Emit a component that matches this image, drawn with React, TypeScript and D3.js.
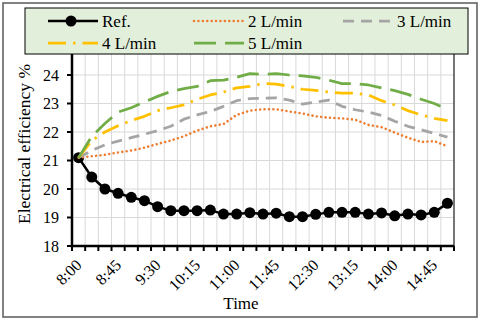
import React from "react";
import { scaleBand, scaleLinear, line } from "d3";

const W = 480;
const H = 320;
const margin = { top: 46.5, right: 26, bottom: 74, left: 72 };
const FONT = "Liberation Serif, Times New Roman, serif";

const times = [
  "8:00", "8:15", "8:30", "8:45", "9:00", "9:15", "9:30", "9:45", "10:00", "10:15",
  "10:30", "10:45", "11:00", "11:15", "11:30", "11:45", "12:00", "12:15", "12:30", "12:45",
  "13:00", "13:15", "13:30", "13:45", "14:00", "14:15", "14:30", "14:45", "15:00",
];
const tickLabels = ["8:00", "8:45", "9:30", "10:15", "11:00", "11:45", "12:30", "13:15", "14:00", "14:45"];
const yTicks = [18, 19, 20, 21, 22, 23, 24];

const ref = [
  21.1, 20.42, 20.0, 19.85, 19.71, 19.59, 19.38, 19.24, 19.24, 19.24,
  19.26, 19.12, 19.12, 19.17, 19.12, 19.15, 19.03, 19.03, 19.11, 19.18,
  19.18, 19.18, 19.12, 19.16, 19.06, 19.12, 19.09, 19.18, 19.5,
];
const flow2 = [
  21.1, 21.15, 21.2, 21.28, 21.35, 21.45, 21.58, 21.7, 21.85, 22.05,
  22.2, 22.28, 22.6, 22.75, 22.8, 22.8, 22.72, 22.65, 22.55, 22.5,
  22.48, 22.43, 22.25, 22.17, 21.98, 21.8, 21.65, 21.68, 21.5,
];
const flow3 = [
  21.1, 21.35, 21.55, 21.68, 21.8, 21.92, 22.05, 22.2, 22.45, 22.6,
  22.72, 22.9, 23.1, 23.17, 23.18, 23.2, 23.12, 22.98, 23.05, 23.12,
  22.9, 22.78, 22.7, 22.58, 22.38, 22.2, 22.08, 21.95, 21.82,
];
const flow4 = [
  21.1, 21.7, 22.0, 22.22, 22.4, 22.55, 22.75, 22.85, 22.95, 23.15,
  23.3, 23.4, 23.55, 23.6, 23.7, 23.68, 23.6, 23.5, 23.46, 23.4,
  23.36, 23.36, 23.3, 23.1, 22.95, 22.75, 22.6, 22.48, 22.4,
];
const flow5 = [
  21.1, 21.85, 22.3, 22.7, 22.85, 23.05, 23.25, 23.42, 23.52, 23.6,
  23.8, 23.82, 23.92, 24.05, 24.02, 24.05, 24.0, 23.97, 23.92, 23.82,
  23.7, 23.7, 23.65, 23.55, 23.45, 23.32, 23.15, 23.0, 22.8,
];

const series = [
  { name: "Ref.", values: ref, color: "#000000", width: 2.5, dash: "", cap: "butt", marker: true },
  { name: "2 L/min", values: flow2, color: "#ED7D31", width: 2.6, dash: "0.01 4.4", cap: "round", marker: false },
  { name: "3 L/min", values: flow3, color: "#A5A5A5", width: 2.75, dash: "11 7", cap: "butt", marker: false },
  { name: "4 L/min", values: flow4, color: "#FFC000", width: 2.75, dash: "18 7 2.5 7", cap: "butt", marker: false },
  { name: "5 L/min", values: flow5, color: "#70AD47", width: 2.75, dash: "22 9", cap: "butt", marker: false },
];

// legend slots: [lineStartX, y]
const legendPos = [
  [48, 21], [194, 21], [343, 21],
  [48, 43], [194, 43],
];

export default function App() {
  const x = scaleBand<string>()
    .domain(times)
    .range([margin.left, W - margin.right])
    .paddingInner(0)
    .paddingOuter(0);
  const y = scaleLinear().domain([18, 25]).range([H - margin.bottom, margin.top]);
  const cx = (t: string) => (x(t) ?? 0) + x.bandwidth() / 2;
  const bottom = H - margin.bottom;

  const mkLine = line<number>()
    .x((_, i) => cx(times[i]))
    .y((d) => y(d));

  const boundaries = times.map((t) => x(t) ?? 0).concat([W - margin.right]);

  return (
    <svg
      width={W}
      height={H}
      style={{ position: "absolute", left: 0, top: 0, background: "#fff", fontFamily: FONT }}
    >
      <rect x={3} y={3} width={474} height={314} fill="#fff" stroke="#595959" strokeWidth={1.5} />

      {/* grid */}
      {yTicks.map((t) => (
        <line key={"gy" + t} x1={margin.left} x2={W - margin.right} y1={y(t)} y2={y(t)} stroke="#d9d9d9" strokeWidth={1} />
      ))}
      {boundaries.map((b, i) => (
        <line key={"gx" + i} x1={b} x2={b} y1={y(25)} y2={bottom} stroke="#d9d9d9" strokeWidth={1} />
      ))}
      <line x1={W - margin.right} x2={W - margin.right} y1={y(25)} y2={bottom} stroke="#000" strokeWidth={1} />

      {/* series */}
      {series.map((s) => (
        <g key={s.name}>
          <path
            d={mkLine(s.values) ?? ""}
            fill="none"
            stroke={s.color}
            strokeWidth={s.width}
            strokeDasharray={s.dash || undefined}
            strokeLinecap={s.cap as any}
            strokeLinejoin="round"
          />
          {s.marker &&
            s.values.map((v, i) => (
              <circle key={i} cx={cx(times[i])} cy={y(v)} r={5.5} fill={s.color} />
            ))}
        </g>
      ))}

      {/* axes */}
      <line x1={margin.left} x2={margin.left} y1={y(25)} y2={bottom + 1.25} stroke="#000" strokeWidth={2.5} />
      <line x1={margin.left - 1.25} x2={W - margin.right} y1={bottom} y2={bottom} stroke="#000" strokeWidth={2.5} />
      {yTicks.map((t) => (
        <g key={"yt" + t}>
          <line x1={margin.left - 5} x2={margin.left} y1={y(t)} y2={y(t)} stroke="#000" strokeWidth={2} />
          <text x={margin.left - 13} y={y(t)} dy="0.35em" textAnchor="end" fontSize={16}>
            {t}
          </text>
        </g>
      ))}
      {boundaries.map((b, i) => (
        <line key={"xt" + i} x1={b} x2={b} y1={bottom} y2={bottom + 5} stroke="#000" strokeWidth={2} />
      ))}
      {tickLabels.map((t) => (
        <text
          key={"xl" + t}
          transform={`translate(${cx(t) + 4},${bottom + 20}) rotate(-45)`}
          textAnchor="end"
          fontSize={16}
        >
          {t}
        </text>
      ))}
      <text x={241} y={309} textAnchor="middle" fontSize={17}>
        Time
      </text>
      <text transform={`translate(30,${144}) rotate(-90)`} textAnchor="middle" fontSize={17.5}>
        Electrical efficiency %
      </text>

      {/* legend */}
      <rect x={25} y={8} width={443} height={46} fill="#e2efda" stroke="#000" strokeWidth={1} />
      {series.map((s, i) => {
        const [lx, ly] = legendPos[i];
        return (
          <g key={"lg" + s.name}>
            <line
              x1={lx}
              x2={lx + 50}
              y1={ly}
              y2={ly}
              stroke={s.color}
              strokeWidth={s.width}
              strokeDasharray={s.dash || undefined}
              strokeLinecap={s.cap as any}
            />
            {s.marker && <circle cx={lx + 23} cy={ly} r={5.5} fill={s.color} />}
            <text x={lx + 54} y={ly} dy="0.35em" fontSize={17}>
              {s.name}
            </text>
          </g>
        );
      })}
    </svg>
  );
}
